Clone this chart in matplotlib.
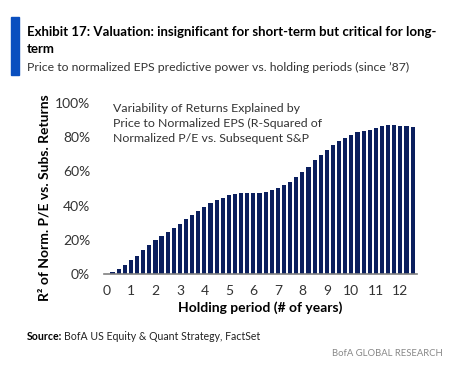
import numpy as np
import matplotlib
matplotlib.use("Agg")
import matplotlib.pyplot as plt
from matplotlib.patches import Rectangle

plt.rcParams["font.family"] = ["Lato", "DejaVu Sans"]

# holding period in years (quarterly steps) and R-squared in %
years = np.arange(0, 12.75, 0.25)
r2 = [0, 1.2, 3.1, 5.2, 8.0, 10.8, 13.9, 17.0, 19.7, 22.1, 24.5, 27.0, 29.2,
      32.0, 34.4, 36.8, 39.0, 41.3, 43.3, 44.6, 46.0, 47.0, 47.5, 47.5, 47.5,
      47.5, 48.1, 49.1, 50.2, 52.0, 54.0, 56.7, 59.4, 62.6, 66.5, 69.6, 72.5,
      75.3, 77.6, 79.6, 81.3, 82.9, 83.5, 84.5, 85.4, 86.8, 87.0, 87.0, 86.8,
      86.4, 86.2]
xticks = list(range(0, 13))
yticks = [0, 20, 40, 60, 80, 100]

navy = "#0b1f5e"
grey = "#333333"

W, H = 473, 373
fig = plt.figure(figsize=(W / 100, H / 100), dpi=100)

# title block
fig.add_artist(Rectangle((11 / W, 1 - 75 / H), 8 / W, 58 / H, color="#0a4fbf",
                         transform=fig.transFigure))
fig.text(27 / W, 1 - 32 / H, "Exhibit 17: Valuation: insignificant for short-term but critical for long-",
         fontsize=9.5, fontweight="bold", va="center", ha="left", color="black")
fig.text(27 / W, 1 - 49 / H, "term", fontsize=9.5, fontweight="bold", va="center", ha="left")
fig.text(27 / W, 1 - 67 / H, "Price to normalized EPS predictive power vs. holding periods (since \u201987)",
         fontsize=8.8, va="center", ha="left", color=grey)

# chart
ax = fig.add_axes([104 / W, (H - 274) / H, (417 - 104) / W, (274 - 103) / H])
ax.bar(years, r2, width=0.17, color=navy)
ax.set_xlim(-0.1, 12.68)
ax.set_ylim(0, 100)
ax.set_xticks(xticks)
ax.set_xticklabels([str(t) for t in xticks])
ax.set_yticks(yticks)
ax.set_yticklabels([f"{t}%" for t in yticks])
for s in ["top", "right", "left"]:
    ax.spines[s].set_visible(False)
ax.spines["bottom"].set_color("#808080")
ax.spines["bottom"].set_linewidth(1.2)
ax.tick_params(length=0, labelsize=10, colors=grey)
ax.tick_params(axis="x", pad=8)
ax.tick_params(axis="y", pad=10)

ax.set_xlabel("Holding period (# of years)", fontsize=10, fontweight="bold", labelpad=3)
fig.text(45 / W, 1 - 198 / H, "R\u00b2 of Norm. P/E vs. Subs. Returns", rotation=90,
         fontsize=10, fontweight="bold", va="center", ha="center")

ax.text(0.25, 100, "Variability of Returns Explained by\nPrice to Normalized EPS (R-Squared of\nNormalized P/E vs. Subsequent S&P",
        fontsize=8.9, color=grey, va="top", ha="left", linespacing=1.45)

# footer
src = fig.text(27 / W, 1 - 337 / H, "Source:", fontsize=7.6, fontweight="bold", va="center")
fig.canvas.draw()
bb = src.get_window_extent()
fig.text((bb.x1 + 2) / W, 1 - 337 / H, "BofA US Equity & Quant Strategy, FactSet",
         fontsize=7.6, va="center", color="#222222")
fig.text(443 / W, 1 - 353 / H, "BofA GLOBAL RESEARCH", fontsize=6.8, color="#888888",
         va="center", ha="right")

fig.savefig("out.png", dpi=100)
